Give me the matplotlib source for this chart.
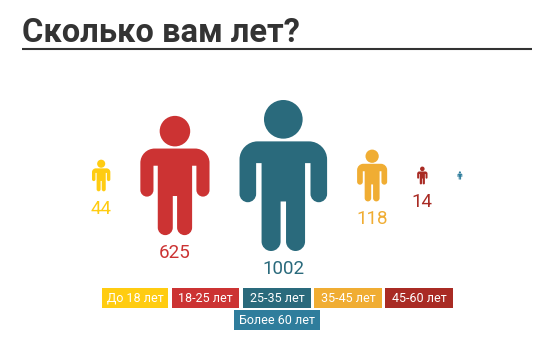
import numpy as np
import matplotlib
matplotlib.use("Agg")
import matplotlib.pyplot as plt
from matplotlib.path import Path
from matplotlib.patches import PathPatch, Rectangle, Circle
from matplotlib.transforms import Affine2D

title = "Сколько вам лет?"
categories = ["До 18 лет", "18-25 лет", "25-35 лет", "35-45 лет", "45-60 лет", "Более 60 лет"]
values = [44, 625, 1002, 118, 14, 3]
labels = ["44", "625", "1002", "118", "14", ""]
colors = ["#FFCC11", "#CC3333", "#2A6A7C", "#F0AD33", "#A92B24", "#2F7D9C"]

W, H = 554, 363
fig = plt.figure(figsize=(W/100, H/100), dpi=100, facecolor="white")
ax = fig.add_axes([0, 0, 1, 1])
ax.set_xlim(0, W); ax.set_ylim(H, 0); ax.axis("off")

def person():
    """Unit person: width 0.58, height 1, origin at top centre."""
    r_head = 0.128
    hw, top, rc = 0.29, 0.274, 0.12
    ar = 0.055
    ab = 0.677
    tw = 0.144
    lb = 1.0
    lr = 0.063
    arm_top = 0.418
    leg_top = 0.672
    k = 0.55
    e = 1-k
    v = [(-hw+rc, top), (hw-rc, top)]
    c = [Path.MOVETO, Path.LINETO]
    def cur(*p):
        for q in p:
            v.append(q); c.append(Path.CURVE4)
    def lin(*p):
        for q in p:
            v.append(q); c.append(Path.LINETO)
    cur((hw-rc*e, top), (hw, top+rc*e), (hw, top+rc))
    lin((hw, ab-ar))
    cur((hw, ab-ar+ar*k), (hw-ar+ar*k, ab), (hw-ar, ab))
    cur((hw-ar-ar*k, ab), (hw-2*ar, ab-ar+ar*k), (hw-2*ar, ab-ar))
    lin((hw-2*ar, arm_top), (tw, arm_top), (tw, lb-lr))
    cur((tw, lb-lr+lr*k), (tw-lr+lr*k, lb), (tw-lr, lb))
    cur((tw-lr-lr*k, lb), (tw-2*lr, lb-lr+lr*k), (tw-2*lr, lb-lr))
    lin((tw-2*lr, leg_top), (-tw+2*lr, leg_top), (-tw+2*lr, lb-lr))
    cur((-tw+2*lr, lb-lr+lr*k), (-tw+lr+lr*k, lb), (-tw+lr, lb))
    cur((-tw+lr-lr*k, lb), (-tw, lb-lr+lr*k), (-tw, lb-lr))
    lin((-tw, arm_top), (-hw+2*ar, arm_top), (-hw+2*ar, ab-ar))
    cur((-hw+2*ar, ab-ar+ar*k), (-hw+ar+ar*k, ab), (-hw+ar, ab))
    cur((-hw+ar-ar*k, ab), (-hw, ab-ar+ar*k), (-hw, ab-ar))
    lin((-hw, top+rc))
    cur((-hw, top+rc*e), (-hw+rc*e, top), (-hw+rc, top))
    v.append((0, 0)); c.append(Path.CLOSEPOLY)
    return r_head, Path(v, c)

r_head, body = person()
scale = 151 / np.sqrt(max(values))
gap = 30
cy = 175.5
x = 92.0
font = "Roboto"
for val, lab, col in zip(values, labels, colors):
    h = scale*np.sqrt(val)
    w = 0.58*h
    cx = x + w/2
    top = cy - h/2
    tr = Affine2D().scale(h).translate(cx, top) + ax.transData
    ax.add_patch(PathPatch(body, facecolor=col, edgecolor="none", transform=tr))
    ax.add_patch(Circle((0, r_head), r_head, facecolor=col, edgecolor="none", transform=tr))
    if lab:
        ax.text(cx, top+h+22.5, lab, color=col, fontsize=13.5, family=font, ha="center", va="baseline")
    x += w + gap

ax.text(22, 42, title, fontsize=23.5, fontweight="bold", color="#333333", family=font, ha="left", va="baseline")
ax.plot([22, 532], [49, 49], color="#333333", lw=1.5, solid_capstyle="butt")

row_x = [101.7, 172.3, 243.3, 314.3, 385.3, 234.3]
row_w = [66.5, 67, 67.4, 67.4, 67.4, 85.7]
row_y = [288, 288, 288, 288, 288, 310.3]
for name, col, lx, lw, ly in zip(categories, colors, row_x, row_w, row_y):
    ax.add_patch(Rectangle((lx, ly), lw, 20, facecolor=col, edgecolor="none"))
    ax.text(lx+lw/2, ly+10.5, name, color="white", fontsize=9, family=font, ha="center", va="center")

fig.savefig("out.png", dpi=100)
